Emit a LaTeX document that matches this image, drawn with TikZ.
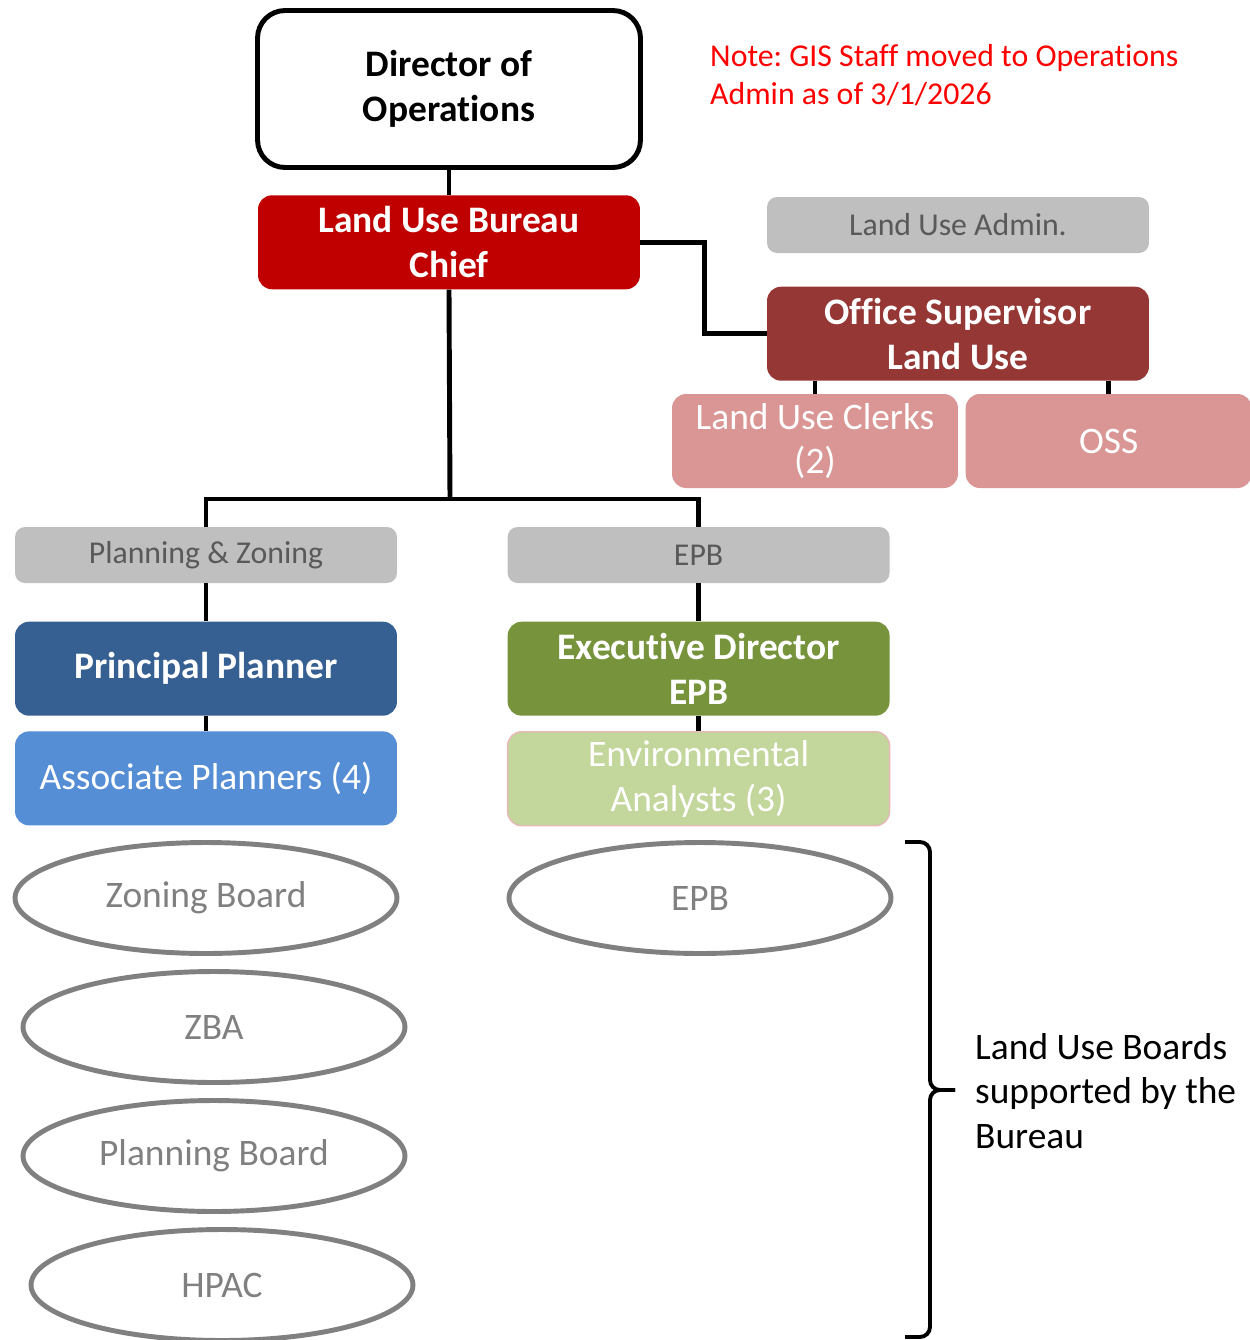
\documentclass[tikz,border=0pt]{standalone}
\usepackage{fontspec}
\setmainfont[Ligatures=NoCommon]{Carlito}
\usepackage{tikz}
\usetikzlibrary{positioning,calc,shapes.geometric}
\frenchspacing

\definecolor{chiefred}{HTML}{C00000}
\definecolor{superred}{HTML}{953735}
\definecolor{clerkpink}{HTML}{D99694}
\definecolor{headgray}{HTML}{BFBFBF}
\definecolor{headtext}{HTML}{595959}
\definecolor{plannerblue}{HTML}{366092}
\definecolor{assocblue}{HTML}{558ED5}
\definecolor{epbgreen}{HTML}{77933C}
\definecolor{analystgreen}{HTML}{C3D69B}
\definecolor{analystrim}{HTML}{E6B9B8}
\definecolor{boardgray}{HTML}{808080}

\tikzstyle{link}=[draw=black,line width=2.8pt]
\newcommand{\bigfont}{\fontsize{21.3}{25.5}\selectfont}
\newcommand{\smallfont}{\fontsize{18.1}{21.5}\selectfont}

\begin{document}
\begin{tikzpicture}[x=0.02cm,y=-0.02cm,
            unit/.style={rectangle, rounded corners=0.28cm, minimum width=7.64cm,
                   minimum height=1.88cm, align=center, text=white, inner sep=0pt,
                   font=\bigfont},
            head/.style={unit, font=\bigfont\bfseries},
            tag/.style={rectangle, rounded corners=0.2cm, fill=headgray, text=headtext,
                   minimum width=7.64cm, minimum height=1.12cm, inner sep=0pt, font=\smallfont},
            board/.style={ellipse, draw=boardgray, line width=2.8pt, text=boardgray,
                   minimum width=7.64cm, minimum height=2.22cm, font=\bigfont}
        ]
            \useasboundingbox (0,0) rectangle (1249,1340);

            % top of the chart
            \node [rectangle, draw=black, line width=2.8pt, fill=white, rounded corners=0.55cm,
                   minimum width=7.66cm, minimum height=3.14cm, align=center,
                   font=\bigfont\bfseries] (director) at (449,89) {Director of\\Operations};
            \node [head, fill=chiefred, below=0.5cm of director] (chief) {Land Use Bureau\\Chief};
            \node [align=left, anchor=west, text=red, font=\smallfont] (note) at (704,75)
                  {Note: GIS Staff moved to Operations\\Admin as of 3/1/2026};

            % office side
            \node [tag] (admin) at (958,225) {Land Use Admin.};
            \node [head, fill=superred, below=0.66cm of admin] (supervisor) {Office Supervisor\\Land Use};
            \node [unit, fill=clerkpink, minimum width=5.72cm] (clerks) at (815,441) {Land Use Clerks\\(2)};
            \node [unit, fill=clerkpink, minimum width=5.72cm, right=0.14cm of clerks] (oss) {OSS};

            % divisions
            \node [tag] (planzone) at (206,555) {Planning \& Zoning};
            \node [tag, right=2.2cm of planzone] (epbhead) {EPB};
            \node [head, fill=plannerblue, below=0.76cm of planzone] (principal) {Principal Planner};
            \node [unit, fill=assocblue, below=0.3cm of principal] (associates) {Associate Planners (4)};
            \node [head, fill=epbgreen, below=0.76cm of epbhead] (execdir) {Executive Director\\EPB};
            \node [unit, fill=analystgreen, draw=analystrim, line width=0.8pt,
                   below=0.3cm of execdir] (analysts) {Environmental\\Analysts (3)};

            % boards
            \node [board] (zoning) at (206,898) {Zoning Board};
            \node [board] (zba) at (214,1027) {ZBA};
            \node [board] (planboard) at (214,1156) {Planning Board};
            \node [board] (hpac) at (222,1285) {HPAC};
            \node [board] (epbboard) at (700,898) {EPB};

            \coordinate (bracetop) at (905,842);
            \coordinate (bracemid) at (930,1090);
            \coordinate (bracetip) at (955,1090);
            \coordinate (bracebot) at (905,1337);
            \node [align=left, anchor=west, font=\bigfont] (boards) at (969,1091)
                  {Land Use Boards\\supported by the\\Bureau};

            % Draw edges
            \coordinate (split) at (450,499);
            \draw [link] (director) -- (chief);
            \draw [link] (chief.east) -- ++(64,0) |- (supervisor.west);
            \draw [link] (clerks.north) -- (clerks.north |- supervisor.south);
            \draw [link] (oss.north) -- (oss.north |- supervisor.south);
            \draw [link] (chief.south) -- (split);
            \draw [link] (planzone.north) |- (split) -| (epbhead.north);
            \draw [link] (planzone) -- (principal);
            \draw [link] (principal) -- (associates);
            \draw [link] (epbhead) -- (execdir);
            \draw [link] (execdir) -- (analysts);

            % bracket
            \draw [line width=2.2pt, rounded corners=0.2cm] (bracetop) -| (bracemid) -- (bracetip);
            \draw [line width=2.2pt, rounded corners=0.2cm] (bracebot) -| (bracemid) -- (bracetip);
        \end{tikzpicture}
\end{document}
